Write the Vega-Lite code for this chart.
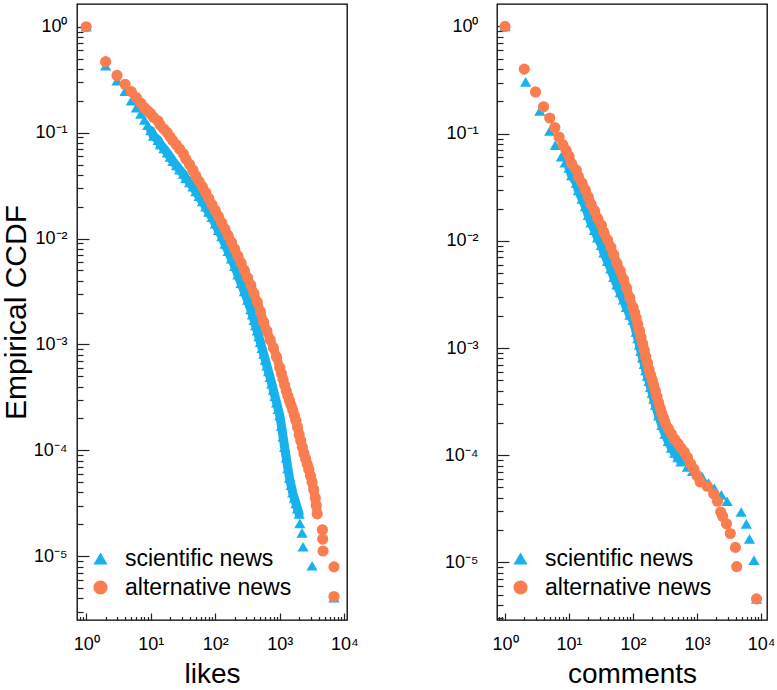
{
  "$schema": "https://vega.github.io/schema/vega-lite/v6.json",
  "background": "white",
  "padding": {"left": 0, "top": 3, "right": 2, "bottom": 0},
  "datasets": {
    "ccdf": [
      {"panel":"likes","type":"scientific news","x":1,"y":1},
      {"panel":"likes","type":"scientific news","x":2,"y":0.43},
      {"panel":"likes","type":"scientific news","x":3,"y":0.31},
      {"panel":"likes","type":"scientific news","x":4,"y":0.247},
      {"panel":"likes","type":"scientific news","x":5,"y":0.2},
      {"panel":"likes","type":"scientific news","x":6,"y":0.172},
      {"panel":"likes","type":"scientific news","x":7,"y":0.15},
      {"panel":"likes","type":"scientific news","x":8,"y":0.132},
      {"panel":"likes","type":"scientific news","x":9,"y":0.118},
      {"panel":"likes","type":"scientific news","x":10,"y":0.105},
      {"panel":"likes","type":"scientific news","x":11,"y":0.0933},
      {"panel":"likes","type":"scientific news","x":13,"y":0.0851},
      {"panel":"likes","type":"scientific news","x":14,"y":0.0776},
      {"panel":"likes","type":"scientific news","x":16,"y":0.0708},
      {"panel":"likes","type":"scientific news","x":18,"y":0.0646},
      {"panel":"likes","type":"scientific news","x":20,"y":0.0589},
      {"panel":"likes","type":"scientific news","x":22,"y":0.0537},
      {"panel":"likes","type":"scientific news","x":25,"y":0.049},
      {"panel":"likes","type":"scientific news","x":28,"y":0.0447},
      {"panel":"likes","type":"scientific news","x":32,"y":0.0407},
      {"panel":"likes","type":"scientific news","x":35,"y":0.0372},
      {"panel":"likes","type":"scientific news","x":40,"y":0.0339},
      {"panel":"likes","type":"scientific news","x":45,"y":0.0309},
      {"panel":"likes","type":"scientific news","x":50,"y":0.0279},
      {"panel":"likes","type":"scientific news","x":56,"y":0.0251},
      {"panel":"likes","type":"scientific news","x":63,"y":0.0224},
      {"panel":"likes","type":"scientific news","x":71,"y":0.02},
      {"panel":"likes","type":"scientific news","x":79,"y":0.0178},
      {"panel":"likes","type":"scientific news","x":89,"y":0.0159},
      {"panel":"likes","type":"scientific news","x":100,"y":0.0138},
      {"panel":"likes","type":"scientific news","x":112,"y":0.012},
      {"panel":"likes","type":"scientific news","x":126,"y":0.0105},
      {"panel":"likes","type":"scientific news","x":141,"y":0.00891},
      {"panel":"likes","type":"scientific news","x":158,"y":0.00759},
      {"panel":"likes","type":"scientific news","x":178,"y":0.00646},
      {"panel":"likes","type":"scientific news","x":200,"y":0.0055},
      {"panel":"likes","type":"scientific news","x":224,"y":0.00457},
      {"panel":"likes","type":"scientific news","x":251,"y":0.0038},
      {"panel":"likes","type":"scientific news","x":282,"y":0.00316},
      {"panel":"likes","type":"scientific news","x":316,"y":0.00263},
      {"panel":"likes","type":"scientific news","x":355,"y":0.00214},
      {"panel":"likes","type":"scientific news","x":376,"y":0.00191},
      {"panel":"likes","type":"scientific news","x":398,"y":0.0017},
      {"panel":"likes","type":"scientific news","x":422,"y":0.00151},
      {"panel":"likes","type":"scientific news","x":447,"y":0.00135},
      {"panel":"likes","type":"scientific news","x":473,"y":0.00119},
      {"panel":"likes","type":"scientific news","x":501,"y":0.00105},
      {"panel":"likes","type":"scientific news","x":531,"y":0.000923},
      {"panel":"likes","type":"scientific news","x":562,"y":0.000813},
      {"panel":"likes","type":"scientific news","x":596,"y":0.000716},
      {"panel":"likes","type":"scientific news","x":631,"y":0.000631},
      {"panel":"likes","type":"scientific news","x":668,"y":0.000556},
      {"panel":"likes","type":"scientific news","x":708,"y":0.00049},
      {"panel":"likes","type":"scientific news","x":750,"y":0.000427},
      {"panel":"likes","type":"scientific news","x":794,"y":0.000372},
      {"panel":"likes","type":"scientific news","x":841,"y":0.000324},
      {"panel":"likes","type":"scientific news","x":891,"y":0.000282},
      {"panel":"likes","type":"scientific news","x":944,"y":0.000245},
      {"panel":"likes","type":"scientific news","x":1000,"y":0.000214},
      {"panel":"likes","type":"scientific news","x":1059,"y":0.00017},
      {"panel":"likes","type":"scientific news","x":1122,"y":0.000135},
      {"panel":"likes","type":"scientific news","x":1189,"y":0.000107},
      {"panel":"likes","type":"scientific news","x":1259,"y":0.0000851},
      {"panel":"likes","type":"scientific news","x":1334,"y":0.0000676},
      {"panel":"likes","type":"scientific news","x":1413,"y":0.000055},
      {"panel":"likes","type":"scientific news","x":1496,"y":0.0000468},
      {"panel":"likes","type":"scientific news","x":1585,"y":0.0000398},
      {"panel":"likes","type":"scientific news","x":1679,"y":0.0000355},
      {"panel":"likes","type":"scientific news","x":1778,"y":0.0000316},
      {"panel":"likes","type":"scientific news","x":1884,"y":0.0000282},
      {"panel":"likes","type":"scientific news","x":1995,"y":0.0000251},
      {"panel":"likes","type":"scientific news","x":2042,"y":0.0000204},
      {"panel":"likes","type":"scientific news","x":2213,"y":0.0000166},
      {"panel":"likes","type":"scientific news","x":2291,"y":0.0000123},
      {"panel":"likes","type":"scientific news","x":3162,"y":0.00000813},
      {"panel":"likes","type":"scientific news","x":6918,"y":0.00000407},

      {"panel":"likes","type":"alternative news","x":1,"y":1},
      {"panel":"likes","type":"alternative news","x":2,"y":0.468},
      {"panel":"likes","type":"alternative news","x":3,"y":0.347},
      {"panel":"likes","type":"alternative news","x":4,"y":0.286},
      {"panel":"likes","type":"alternative news","x":5,"y":0.244},
      {"panel":"likes","type":"alternative news","x":6,"y":0.214},
      {"panel":"likes","type":"alternative news","x":7,"y":0.19},
      {"panel":"likes","type":"alternative news","x":8,"y":0.172},
      {"panel":"likes","type":"alternative news","x":9,"y":0.16},
      {"panel":"likes","type":"alternative news","x":10,"y":0.151},
      {"panel":"likes","type":"alternative news","x":11,"y":0.14},
      {"panel":"likes","type":"alternative news","x":13,"y":0.129},
      {"panel":"likes","type":"alternative news","x":14,"y":0.118},
      {"panel":"likes","type":"alternative news","x":16,"y":0.108},
      {"panel":"likes","type":"alternative news","x":18,"y":0.1},
      {"panel":"likes","type":"alternative news","x":20,"y":0.0912},
      {"panel":"likes","type":"alternative news","x":22,"y":0.0841},
      {"panel":"likes","type":"alternative news","x":25,"y":0.0767},
      {"panel":"likes","type":"alternative news","x":28,"y":0.07},
      {"panel":"likes","type":"alternative news","x":32,"y":0.0631},
      {"panel":"likes","type":"alternative news","x":35,"y":0.0562},
      {"panel":"likes","type":"alternative news","x":40,"y":0.0501},
      {"panel":"likes","type":"alternative news","x":45,"y":0.0442},
      {"panel":"likes","type":"alternative news","x":50,"y":0.0389},
      {"panel":"likes","type":"alternative news","x":56,"y":0.0347},
      {"panel":"likes","type":"alternative news","x":63,"y":0.0309},
      {"panel":"likes","type":"alternative news","x":71,"y":0.0272},
      {"panel":"likes","type":"alternative news","x":79,"y":0.024},
      {"panel":"likes","type":"alternative news","x":89,"y":0.0209},
      {"panel":"likes","type":"alternative news","x":100,"y":0.0184},
      {"panel":"likes","type":"alternative news","x":112,"y":0.0162},
      {"panel":"likes","type":"alternative news","x":126,"y":0.0141},
      {"panel":"likes","type":"alternative news","x":141,"y":0.0123},
      {"panel":"likes","type":"alternative news","x":158,"y":0.0107},
      {"panel":"likes","type":"alternative news","x":178,"y":0.00923},
      {"panel":"likes","type":"alternative news","x":200,"y":0.00794},
      {"panel":"likes","type":"alternative news","x":224,"y":0.00684},
      {"panel":"likes","type":"alternative news","x":251,"y":0.00589},
      {"panel":"likes","type":"alternative news","x":282,"y":0.00501},
      {"panel":"likes","type":"alternative news","x":316,"y":0.00427},
      {"panel":"likes","type":"alternative news","x":355,"y":0.00363},
      {"panel":"likes","type":"alternative news","x":398,"y":0.00302},
      {"panel":"likes","type":"alternative news","x":447,"y":0.00251},
      {"panel":"likes","type":"alternative news","x":501,"y":0.00204},
      {"panel":"likes","type":"alternative news","x":562,"y":0.00162},
      {"panel":"likes","type":"alternative news","x":631,"y":0.00134},
      {"panel":"likes","type":"alternative news","x":708,"y":0.00111},
      {"panel":"likes","type":"alternative news","x":794,"y":0.000933},
      {"panel":"likes","type":"alternative news","x":891,"y":0.000759},
      {"panel":"likes","type":"alternative news","x":1000,"y":0.000603},
      {"panel":"likes","type":"alternative news","x":1059,"y":0.000531},
      {"panel":"likes","type":"alternative news","x":1122,"y":0.000468},
      {"panel":"likes","type":"alternative news","x":1189,"y":0.000412},
      {"panel":"likes","type":"alternative news","x":1259,"y":0.000363},
      {"panel":"likes","type":"alternative news","x":1334,"y":0.000327},
      {"panel":"likes","type":"alternative news","x":1413,"y":0.000295},
      {"panel":"likes","type":"alternative news","x":1496,"y":0.000266},
      {"panel":"likes","type":"alternative news","x":1585,"y":0.00024},
      {"panel":"likes","type":"alternative news","x":1679,"y":0.000214},
      {"panel":"likes","type":"alternative news","x":1778,"y":0.000191},
      {"panel":"likes","type":"alternative news","x":1884,"y":0.000166},
      {"panel":"likes","type":"alternative news","x":1995,"y":0.000141},
      {"panel":"likes","type":"alternative news","x":2113,"y":0.000123},
      {"panel":"likes","type":"alternative news","x":2239,"y":0.000107},
      {"panel":"likes","type":"alternative news","x":2371,"y":0.0000933},
      {"panel":"likes","type":"alternative news","x":2512,"y":0.0000832},
      {"panel":"likes","type":"alternative news","x":2661,"y":0.0000741},
      {"panel":"likes","type":"alternative news","x":2818,"y":0.0000661},
      {"panel":"likes","type":"alternative news","x":2985,"y":0.0000575},
      {"panel":"likes","type":"alternative news","x":3162,"y":0.0000501},
      {"panel":"likes","type":"alternative news","x":3350,"y":0.0000427},
      {"panel":"likes","type":"alternative news","x":3548,"y":0.0000355},
      {"panel":"likes","type":"alternative news","x":3673,"y":0.0000302},
      {"panel":"likes","type":"alternative news","x":3802,"y":0.0000251},
      {"panel":"likes","type":"alternative news","x":4571,"y":0.0000178},
      {"panel":"likes","type":"alternative news","x":4624,"y":0.0000145},
      {"panel":"likes","type":"alternative news","x":4677,"y":0.0000112},
      {"panel":"likes","type":"alternative news","x":6918,"y":0.00000794},
      {"panel":"likes","type":"alternative news","x":6919,"y":0.00000417},

      {"panel":"comments","type":"scientific news","x":1,"y":1},
      {"panel":"comments","type":"scientific news","x":2.1,"y":0.304},
      {"panel":"comments","type":"scientific news","x":3.5,"y":0.163},
      {"panel":"comments","type":"scientific news","x":5,"y":0.106},
      {"panel":"comments","type":"scientific news","x":6.1,"y":0.078},
      {"panel":"comments","type":"scientific news","x":7.6,"y":0.061},
      {"panel":"comments","type":"scientific news","x":8.7,"y":0.0537},
      {"panel":"comments","type":"scientific news","x":10,"y":0.0479},
      {"panel":"comments","type":"scientific news","x":11,"y":0.0407},
      {"panel":"comments","type":"scientific news","x":13,"y":0.0347},
      {"panel":"comments","type":"scientific news","x":14,"y":0.0295},
      {"panel":"comments","type":"scientific news","x":16,"y":0.0246},
      {"panel":"comments","type":"scientific news","x":18,"y":0.0209},
      {"panel":"comments","type":"scientific news","x":20,"y":0.0174},
      {"panel":"comments","type":"scientific news","x":22,"y":0.0148},
      {"panel":"comments","type":"scientific news","x":25,"y":0.0126},
      {"panel":"comments","type":"scientific news","x":28,"y":0.0107},
      {"panel":"comments","type":"scientific news","x":32,"y":0.00912},
      {"panel":"comments","type":"scientific news","x":35,"y":0.00776},
      {"panel":"comments","type":"scientific news","x":40,"y":0.00646},
      {"panel":"comments","type":"scientific news","x":45,"y":0.0055},
      {"panel":"comments","type":"scientific news","x":50,"y":0.00457},
      {"panel":"comments","type":"scientific news","x":56,"y":0.00389},
      {"panel":"comments","type":"scientific news","x":63,"y":0.00331},
      {"panel":"comments","type":"scientific news","x":71,"y":0.00282},
      {"panel":"comments","type":"scientific news","x":79,"y":0.0024},
      {"panel":"comments","type":"scientific news","x":89,"y":0.00204},
      {"panel":"comments","type":"scientific news","x":100,"y":0.00182},
      {"panel":"comments","type":"scientific news","x":112,"y":0.00141},
      {"panel":"comments","type":"scientific news","x":119,"y":0.00123},
      {"panel":"comments","type":"scientific news","x":126,"y":0.00107},
      {"panel":"comments","type":"scientific news","x":133,"y":0.000933},
      {"panel":"comments","type":"scientific news","x":141,"y":0.000813},
      {"panel":"comments","type":"scientific news","x":150,"y":0.000708},
      {"panel":"comments","type":"scientific news","x":158,"y":0.000617},
      {"panel":"comments","type":"scientific news","x":168,"y":0.00055},
      {"panel":"comments","type":"scientific news","x":178,"y":0.00049},
      {"panel":"comments","type":"scientific news","x":188,"y":0.000432},
      {"panel":"comments","type":"scientific news","x":200,"y":0.00038},
      {"panel":"comments","type":"scientific news","x":211,"y":0.000335},
      {"panel":"comments","type":"scientific news","x":224,"y":0.000295},
      {"panel":"comments","type":"scientific news","x":251,"y":0.000234},
      {"panel":"comments","type":"scientific news","x":282,"y":0.000191},
      {"panel":"comments","type":"scientific news","x":316,"y":0.000158},
      {"panel":"comments","type":"scientific news","x":355,"y":0.000135},
      {"panel":"comments","type":"scientific news","x":398,"y":0.000117},
      {"panel":"comments","type":"scientific news","x":447,"y":0.000105},
      {"panel":"comments","type":"scientific news","x":501,"y":0.0000955},
      {"panel":"comments","type":"scientific news","x":562,"y":0.0000871},
      {"panel":"comments","type":"scientific news","x":708,"y":0.0000776},
      {"panel":"comments","type":"scientific news","x":851,"y":0.0000708},
      {"panel":"comments","type":"scientific news","x":1000,"y":0.0000676},
      {"panel":"comments","type":"scientific news","x":1202,"y":0.0000631},
      {"panel":"comments","type":"scientific news","x":1514,"y":0.000055},
      {"panel":"comments","type":"scientific news","x":1862,"y":0.000049},
      {"panel":"comments","type":"scientific news","x":2399,"y":0.0000427},
      {"panel":"comments","type":"scientific news","x":2951,"y":0.0000372},
      {"panel":"comments","type":"scientific news","x":4898,"y":0.0000295},
      {"panel":"comments","type":"scientific news","x":5888,"y":0.0000229},
      {"panel":"comments","type":"scientific news","x":6607,"y":0.0000166},
      {"panel":"comments","type":"scientific news","x":7762,"y":0.0000105},
      {"panel":"comments","type":"scientific news","x":8511,"y":0.00000457},

      {"panel":"comments","type":"alternative news","x":1,"y":1},
      {"panel":"comments","type":"alternative news","x":2,"y":0.4},
      {"panel":"comments","type":"alternative news","x":3,"y":0.245},
      {"panel":"comments","type":"alternative news","x":4,"y":0.178},
      {"panel":"comments","type":"alternative news","x":5,"y":0.14},
      {"panel":"comments","type":"alternative news","x":6,"y":0.114},
      {"panel":"comments","type":"alternative news","x":7,"y":0.093},
      {"panel":"comments","type":"alternative news","x":8,"y":0.079},
      {"panel":"comments","type":"alternative news","x":9,"y":0.07},
      {"panel":"comments","type":"alternative news","x":10,"y":0.0617},
      {"panel":"comments","type":"alternative news","x":11,"y":0.0525},
      {"panel":"comments","type":"alternative news","x":13,"y":0.0457},
      {"panel":"comments","type":"alternative news","x":14,"y":0.0398},
      {"panel":"comments","type":"alternative news","x":16,"y":0.0347},
      {"panel":"comments","type":"alternative news","x":18,"y":0.0299},
      {"panel":"comments","type":"alternative news","x":20,"y":0.0257},
      {"panel":"comments","type":"alternative news","x":22,"y":0.0221},
      {"panel":"comments","type":"alternative news","x":25,"y":0.0191},
      {"panel":"comments","type":"alternative news","x":28,"y":0.0162},
      {"panel":"comments","type":"alternative news","x":32,"y":0.014},
      {"panel":"comments","type":"alternative news","x":35,"y":0.012},
      {"panel":"comments","type":"alternative news","x":40,"y":0.0102},
      {"panel":"comments","type":"alternative news","x":45,"y":0.00871},
      {"panel":"comments","type":"alternative news","x":50,"y":0.00741},
      {"panel":"comments","type":"alternative news","x":56,"y":0.00617},
      {"panel":"comments","type":"alternative news","x":63,"y":0.00525},
      {"panel":"comments","type":"alternative news","x":71,"y":0.00437},
      {"panel":"comments","type":"alternative news","x":79,"y":0.00363},
      {"panel":"comments","type":"alternative news","x":89,"y":0.00295},
      {"panel":"comments","type":"alternative news","x":100,"y":0.0024},
      {"panel":"comments","type":"alternative news","x":106,"y":0.00214},
      {"panel":"comments","type":"alternative news","x":112,"y":0.00191},
      {"panel":"comments","type":"alternative news","x":119,"y":0.00166},
      {"panel":"comments","type":"alternative news","x":126,"y":0.00145},
      {"panel":"comments","type":"alternative news","x":133,"y":0.00126},
      {"panel":"comments","type":"alternative news","x":141,"y":0.0011},
      {"panel":"comments","type":"alternative news","x":150,"y":0.000955},
      {"panel":"comments","type":"alternative news","x":158,"y":0.000832},
      {"panel":"comments","type":"alternative news","x":168,"y":0.000724},
      {"panel":"comments","type":"alternative news","x":178,"y":0.000631},
      {"panel":"comments","type":"alternative news","x":188,"y":0.000562},
      {"panel":"comments","type":"alternative news","x":200,"y":0.000501},
      {"panel":"comments","type":"alternative news","x":211,"y":0.000447},
      {"panel":"comments","type":"alternative news","x":224,"y":0.000398},
      {"panel":"comments","type":"alternative news","x":237,"y":0.000351},
      {"panel":"comments","type":"alternative news","x":251,"y":0.000309},
      {"panel":"comments","type":"alternative news","x":266,"y":0.000275},
      {"panel":"comments","type":"alternative news","x":282,"y":0.000245},
      {"panel":"comments","type":"alternative news","x":299,"y":0.000224},
      {"panel":"comments","type":"alternative news","x":316,"y":0.000204},
      {"panel":"comments","type":"alternative news","x":355,"y":0.000178},
      {"panel":"comments","type":"alternative news","x":398,"y":0.000158},
      {"panel":"comments","type":"alternative news","x":447,"y":0.000141},
      {"panel":"comments","type":"alternative news","x":501,"y":0.000129},
      {"panel":"comments","type":"alternative news","x":562,"y":0.000117},
      {"panel":"comments","type":"alternative news","x":631,"y":0.000107},
      {"panel":"comments","type":"alternative news","x":708,"y":0.0000955},
      {"panel":"comments","type":"alternative news","x":794,"y":0.0000832},
      {"panel":"comments","type":"alternative news","x":891,"y":0.0000741},
      {"panel":"comments","type":"alternative news","x":1000,"y":0.0000646},
      {"panel":"comments","type":"alternative news","x":1122,"y":0.0000562},
      {"panel":"comments","type":"alternative news","x":1445,"y":0.0000513},
      {"panel":"comments","type":"alternative news","x":1820,"y":0.0000437},
      {"panel":"comments","type":"alternative news","x":2089,"y":0.0000372},
      {"panel":"comments","type":"alternative news","x":2344,"y":0.0000295},
      {"panel":"comments","type":"alternative news","x":2512,"y":0.0000269},
      {"panel":"comments","type":"alternative news","x":2884,"y":0.0000229},
      {"panel":"comments","type":"alternative news","x":3311,"y":0.0000186},
      {"panel":"comments","type":"alternative news","x":3981,"y":0.0000138},
      {"panel":"comments","type":"alternative news","x":4169,"y":0.00000912},
      {"panel":"comments","type":"alternative news","x":8511,"y":0.00000457}
    ]
  },
  "hconcat": [
    {
      "width": 270,
      "height": 616,
      "data": {"name": "ccdf"},
      "transform": [{"filter": "datum.panel == 'likes'"}],
      "resolve": {"axis": {"x": "independent", "y": "independent"}},
      "layer": [
        {
          "transform": [{"filter": "datum.type == 'scientific news' && datum.x >= 10 && datum.x <= 2000"}],
          "mark": {"type": "line", "color": "#17B2EB", "strokeWidth": 9, "strokeCap": "round", "strokeJoin": "round"},
          "encoding": {
            "x": {"field": "x", "type": "quantitative", "scale": {"type": "log", "domain": [0.72, 11000], "nice": false},
              "axis": {"orient": "bottom", "title": "likes", "titleFontSize": 28, "titlePadding": 7, "values": [1, 10, 100, 1000, 10000],
                "labelExpr": "'10' + ['⁻⁵','⁻⁴','⁻³','⁻²','⁻¹','⁰','¹','²','³','⁴'][round(log(datum.value)/LN10) + 5]",
                "ticks": true, "offset": -7, "tickSize": 7, "labelPadding": 15, "labelAngle": 0}},
            "y": {"field": "y", "type": "quantitative", "scale": {"type": "log", "domain": [0.0000025, 1.64], "nice": false},
              "axis": {"orient": "left", "title": "Empirical CCDF", "titleFontSize": 30, "titlePadding": 2, "values": [0.00001, 0.0001, 0.001, 0.01, 0.1, 1],
                "labelExpr": "'10' + ['⁻⁵','⁻⁴','⁻³','⁻²','⁻¹','⁰','¹','²','³','⁴'][round(log(datum.value)/LN10) + 5]",
                "ticks": true, "offset": -12, "tickSize": 12, "labelPadding": 10}}
          }
        },
        {
          "transform": [{"filter": "datum.type == 'scientific news'"}],
          "mark": {"type": "point", "filled": true, "size": 125, "opacity": 1},
          "encoding": {
            "x": {"field": "x", "type": "quantitative", "scale": {"type": "log", "domain": [0.72, 11000], "nice": false},
              "axis": {"orient": "bottom", "title": null, "labels": false, "ticks": true, "offset": -3.5, "tickSize": 3.5,
                "values": [0.8,0.9,2,3,4,5,6,7,8,9,20,30,40,50,60,70,80,90,200,300,400,500,600,700,800,900,2000,3000,4000,5000,6000,7000,8000,9000]}},
            "y": {"field": "y", "type": "quantitative", "scale": {"type": "log", "domain": [0.0000025, 1.64], "nice": false},
              "axis": {"orient": "left", "title": null, "labels": false, "ticks": true, "offset": -6, "tickSize": 6,
                "values": [0.000003,0.000004,0.000005,0.000006,0.000007,0.000008,0.000009,0.00002,0.00003,0.00004,0.00005,0.00006,0.00007,0.00008,0.00009,0.0002,0.0003,0.0004,0.0005,0.0006,0.0007,0.0008,0.0009,0.002,0.003,0.004,0.005,0.006,0.007,0.008,0.009,0.02,0.03,0.04,0.05,0.06,0.07,0.08,0.09,0.2,0.3,0.4,0.5,0.6,0.7,0.8,0.9]}},
            "color": {"field": "type", "type": "nominal", "scale": {"domain": ["scientific news", "alternative news"], "range": ["#17B2EB", "#FA7D50"]},
              "legend": {"orient": "none", "legendX": 12, "legendY": 543, "title": null, "labelFontSize": 23, "labelColor": "black", "symbolSize": 200, "symbolStrokeWidth": 0, "rowPadding": 5, "labelOffset": 13, "padding": 0, "labelLimit": 0}},
            "shape": {"field": "type", "type": "nominal", "scale": {"domain": ["scientific news", "alternative news"], "range": ["triangle-up", "circle"]},
              "legend": {"orient": "none", "legendX": 12, "legendY": 543, "title": null, "labelFontSize": 23, "labelColor": "black", "symbolSize": 200, "symbolStrokeWidth": 0, "rowPadding": 5, "labelOffset": 13, "padding": 0, "labelLimit": 0}}
          }
        },
        {
          "transform": [{"filter": "datum.type == 'alternative news' && datum.x >= 10 && datum.x <= 3900"}],
          "mark": {"type": "line", "color": "#FA7D50", "strokeWidth": 9, "strokeCap": "round", "strokeJoin": "round"},
          "encoding": {
            "x": {"field": "x", "type": "quantitative", "scale": {"type": "log", "domain": [0.72, 11000], "nice": false}, "axis": null},
            "y": {"field": "y", "type": "quantitative", "scale": {"type": "log", "domain": [0.0000025, 1.64], "nice": false}, "axis": null}
          }
        },
        {
          "transform": [{"filter": "datum.type == 'alternative news'"}],
          "mark": {"type": "point", "filled": true, "size": 125, "opacity": 1},
          "encoding": {
            "x": {"field": "x", "type": "quantitative", "scale": {"type": "log", "domain": [0.72, 11000], "nice": false}, "axis": null},
            "y": {"field": "y", "type": "quantitative", "scale": {"type": "log", "domain": [0.0000025, 1.64], "nice": false}, "axis": null},
            "color": {"field": "type", "type": "nominal", "scale": {"domain": ["scientific news", "alternative news"], "range": ["#17B2EB", "#FA7D50"]},
              "legend": {"orient": "none", "legendX": 12, "legendY": 543, "title": null, "labelFontSize": 23, "labelColor": "black", "symbolSize": 200, "symbolStrokeWidth": 0, "rowPadding": 5, "labelOffset": 13, "padding": 0, "labelLimit": 0}},
            "shape": {"field": "type", "type": "nominal", "scale": {"domain": ["scientific news", "alternative news"], "range": ["triangle-up", "circle"]},
              "legend": {"orient": "none", "legendX": 12, "legendY": 543, "title": null, "labelFontSize": 23, "labelColor": "black", "symbolSize": 200, "symbolStrokeWidth": 0, "rowPadding": 5, "labelOffset": 13, "padding": 0, "labelLimit": 0}}
          }
        }
      ]
    },
    {
      "width": 270,
      "height": 616,
      "data": {"name": "ccdf"},
      "transform": [{"filter": "datum.panel == 'comments'"}],
      "resolve": {"axis": {"x": "independent", "y": "independent"}},
      "layer": [
        {
          "transform": [{"filter": "datum.type == 'scientific news' && datum.x >= 10 && datum.x <= 600"}],
          "mark": {"type": "line", "color": "#17B2EB", "strokeWidth": 9, "strokeCap": "round", "strokeJoin": "round"},
          "encoding": {
            "x": {"field": "x", "type": "quantitative", "scale": {"type": "log", "domain": [0.75, 12400], "nice": false},
              "axis": {"orient": "bottom", "title": "comments", "titleFontSize": 28, "titlePadding": 7, "values": [1, 10, 100, 1000, 10000],
                "labelExpr": "'10' + ['⁻⁵','⁻⁴','⁻³','⁻²','⁻¹','⁰','¹','²','³','⁴'][round(log(datum.value)/LN10) + 5]",
                "ticks": true, "offset": -7, "tickSize": 7, "labelPadding": 15, "labelAngle": 0}},
            "y": {"field": "y", "type": "quantitative", "scale": {"type": "log", "domain": [0.0000029, 1.62], "nice": false},
              "axis": {"orient": "left", "title": null, "values": [0.00001, 0.0001, 0.001, 0.01, 0.1, 1],
                "labelExpr": "'10' + ['⁻⁵','⁻⁴','⁻³','⁻²','⁻¹','⁰','¹','²','³','⁴'][round(log(datum.value)/LN10) + 5]",
                "ticks": true, "offset": -12, "tickSize": 12, "labelPadding": 19}}
          }
        },
        {
          "transform": [{"filter": "datum.type == 'scientific news'"}],
          "mark": {"type": "point", "filled": true, "size": 125, "opacity": 1},
          "encoding": {
            "x": {"field": "x", "type": "quantitative", "scale": {"type": "log", "domain": [0.75, 12400], "nice": false},
              "axis": {"orient": "bottom", "title": null, "labels": false, "ticks": true, "offset": -3.5, "tickSize": 3.5,
                "values": [0.8,0.9,2,3,4,5,6,7,8,9,20,30,40,50,60,70,80,90,200,300,400,500,600,700,800,900,2000,3000,4000,5000,6000,7000,8000,9000]}},
            "y": {"field": "y", "type": "quantitative", "scale": {"type": "log", "domain": [0.0000029, 1.62], "nice": false},
              "axis": {"orient": "left", "title": null, "labels": false, "ticks": true, "offset": -6, "tickSize": 6,
                "values": [0.000003,0.000004,0.000005,0.000006,0.000007,0.000008,0.000009,0.00002,0.00003,0.00004,0.00005,0.00006,0.00007,0.00008,0.00009,0.0002,0.0003,0.0004,0.0005,0.0006,0.0007,0.0008,0.0009,0.002,0.003,0.004,0.005,0.006,0.007,0.008,0.009,0.02,0.03,0.04,0.05,0.06,0.07,0.08,0.09,0.2,0.3,0.4,0.5,0.6,0.7,0.8,0.9]}},
            "color": {"field": "type", "type": "nominal", "scale": {"domain": ["scientific news", "alternative news"], "range": ["#17B2EB", "#FA7D50"]},
              "legend": {"orient": "none", "legendX": 12, "legendY": 543, "title": null, "labelFontSize": 23, "labelColor": "black", "symbolSize": 200, "symbolStrokeWidth": 0, "rowPadding": 5, "labelOffset": 13, "padding": 0, "labelLimit": 0}},
            "shape": {"field": "type", "type": "nominal", "scale": {"domain": ["scientific news", "alternative news"], "range": ["triangle-up", "circle"]},
              "legend": {"orient": "none", "legendX": 12, "legendY": 543, "title": null, "labelFontSize": 23, "labelColor": "black", "symbolSize": 200, "symbolStrokeWidth": 0, "rowPadding": 5, "labelOffset": 13, "padding": 0, "labelLimit": 0}}
          }
        },
        {
          "transform": [{"filter": "datum.type == 'alternative news' && datum.x >= 10 && datum.x <= 1130"}],
          "mark": {"type": "line", "color": "#FA7D50", "strokeWidth": 9, "strokeCap": "round", "strokeJoin": "round"},
          "encoding": {
            "x": {"field": "x", "type": "quantitative", "scale": {"type": "log", "domain": [0.75, 12400], "nice": false}, "axis": null},
            "y": {"field": "y", "type": "quantitative", "scale": {"type": "log", "domain": [0.0000029, 1.62], "nice": false}, "axis": null}
          }
        },
        {
          "transform": [{"filter": "datum.type == 'alternative news'"}],
          "mark": {"type": "point", "filled": true, "size": 125, "opacity": 1},
          "encoding": {
            "x": {"field": "x", "type": "quantitative", "scale": {"type": "log", "domain": [0.75, 12400], "nice": false}, "axis": null},
            "y": {"field": "y", "type": "quantitative", "scale": {"type": "log", "domain": [0.0000029, 1.62], "nice": false}, "axis": null},
            "color": {"field": "type", "type": "nominal", "scale": {"domain": ["scientific news", "alternative news"], "range": ["#17B2EB", "#FA7D50"]},
              "legend": {"orient": "none", "legendX": 12, "legendY": 543, "title": null, "labelFontSize": 23, "labelColor": "black", "symbolSize": 200, "symbolStrokeWidth": 0, "rowPadding": 5, "labelOffset": 13, "padding": 0, "labelLimit": 0}},
            "shape": {"field": "type", "type": "nominal", "scale": {"domain": ["scientific news", "alternative news"], "range": ["triangle-up", "circle"]},
              "legend": {"orient": "none", "legendX": 12, "legendY": 543, "title": null, "labelFontSize": 23, "labelColor": "black", "symbolSize": 200, "symbolStrokeWidth": 0, "rowPadding": 5, "labelOffset": 13, "padding": 0, "labelLimit": 0}}
          }
        }
      ]
    }
  ],
  "spacing": 84,
  "resolve": {
    "scale": {"x": "independent", "y": "independent", "color": "independent", "shape": "independent"},
    "axis": {"x": "independent", "y": "independent"},
    "legend": {"color": "independent", "shape": "independent"}
  },
  "config": {
    "font": "Liberation Sans",
    "view": {"stroke": "black", "strokeWidth": 1.3},
    "axis": {
      "domain": false, "grid": false, "ticks": true, "tickColor": "#222222", "tickOpacity": 1, "tickWidth": 1.2,
      "labelColor": "black", "labelFontSize": 18, "labelFont": "Liberation Sans",
      "titleFont": "Liberation Sans", "titleFontWeight": "normal", "titleColor": "black",
      "labelFlush": false, "labelOverlap": false, "labelBound": false
    },
    "legend": {"labelFont": "Liberation Sans"}
  }
}
